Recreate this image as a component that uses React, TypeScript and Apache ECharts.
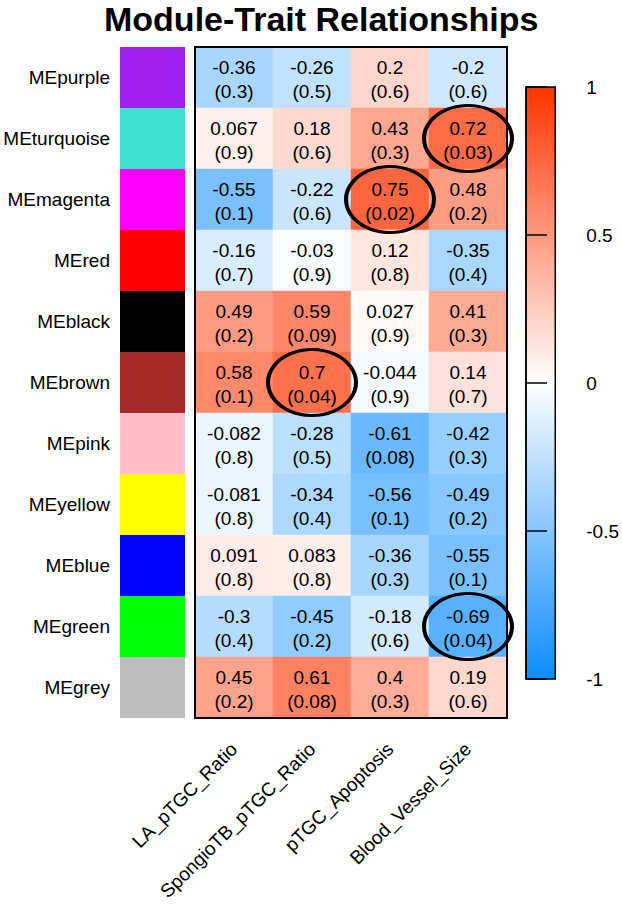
import React, { useEffect, useRef } from "react";
import * as echarts from "echarts";

const modules = ["MEpurple", "MEturquoise", "MEmagenta", "MEred", "MEblack", "MEbrown", "MEpink", "MEyellow", "MEblue", "MEgreen", "MEgrey"];
const moduleColors = ["#A020F0", "#40E0D0", "#FF00FF", "#FF0000", "#000000", "#A52A2A", "#FFC0CB", "#FFFF00", "#0000FF", "#00FF00", "#BEBEBE"];
const traits = ["LA_pTGC_Ratio", "SpongioTB_pTGC_Ratio", "pTGC_Apoptosis", "Blood_Vessel_Size"];

// correlations per module (rows) x trait (cols)
const corr = [
  [-0.36, -0.26, 0.2, -0.2],
  [0.067, 0.18, 0.43, 0.72],
  [-0.55, -0.22, 0.75, 0.48],
  [-0.16, -0.03, 0.12, -0.35],
  [0.49, 0.59, 0.027, 0.41],
  [0.58, 0.7, -0.044, 0.14],
  [-0.082, -0.28, -0.61, -0.42],
  [-0.081, -0.34, -0.56, -0.49],
  [0.091, 0.083, -0.36, -0.55],
  [-0.3, -0.45, -0.18, -0.69],
  [0.45, 0.61, 0.4, 0.19],
];
const pvals = [
  [0.3, 0.5, 0.6, 0.6],
  [0.9, 0.6, 0.3, 0.03],
  [0.1, 0.6, 0.02, 0.2],
  [0.7, 0.9, 0.8, 0.4],
  [0.2, 0.09, 0.9, 0.3],
  [0.1, 0.04, 0.9, 0.7],
  [0.8, 0.5, 0.08, 0.3],
  [0.8, 0.4, 0.1, 0.2],
  [0.8, 0.8, 0.3, 0.1],
  [0.4, 0.2, 0.6, 0.04],
  [0.2, 0.08, 0.3, 0.6],
];
// highlighted (significant) cells: [traitIndex, moduleIndex]
const highlighted = [
  [3, 1],
  [2, 2],
  [1, 5],
  [3, 9],
];
const colorbarTicks = [-1, -0.5, 0, 0.5, 1];

const FONT = "'Liberation Sans', Arial, Helvetica, sans-serif";

export default function App() {
  const ref = useRef<HTMLDivElement>(null);
  useEffect(() => {
    if (!ref.current) return;
    const chart = echarts.init(ref.current, null, { renderer: "svg" });
    const heatData: any[] = [];
    modules.forEach((m, r) => {
      traits.forEach((t, c) => {
        heatData.push({ value: [c, r, corr[r][c]], p: pvals[r][c] });
      });
    });
    const hm = { left: 195, top: 47, width: 312, height: 671 };
    const option: any = {
      animation: false,
      backgroundColor: "#ffffff",
      textStyle: { fontFamily: FONT },
      title: {
        text: "Module-Trait Relationships",
        left: 104,
        top: 2,
        padding: 0,
        textStyle: { fontSize: 34, fontWeight: "bold", color: "#000", fontFamily: FONT },
      },
      grid: [
        { ...hm },
        { left: 120, top: 47, width: 65, height: 671 },
        {
          left: 526,
          top: 87,
          width: 30,
          height: 592,
          show: true,
          borderColor: "#000",
          borderWidth: 1.5,
          backgroundColor: {
            type: "linear",
            x: 0,
            y: 0,
            x2: 0,
            y2: 1,
            colorStops: [
              { offset: 0, color: "#FF3300" },
              { offset: 0.5, color: "#FFFFFF" },
              { offset: 1, color: "#0D8CFF" },
            ],
          },
        },
      ],
      xAxis: [
        {
          gridIndex: 0,
          type: "category",
          data: traits,
          axisLine: { show: false },
          axisTick: { show: false },
          splitLine: { show: false },
          axisLabel: { rotate: 45, margin: 28, fontSize: 19, color: "#000", fontFamily: FONT, interval: 0 },
        },
        { gridIndex: 1, type: "value", min: 0, max: 1, show: false },
        { gridIndex: 2, type: "value", min: 0, max: 1, show: false },
      ],
      yAxis: [
        {
          gridIndex: 0,
          type: "category",
          data: modules,
          inverse: true,
          show: false,
        },
        {
          gridIndex: 1,
          type: "category",
          data: modules,
          inverse: true,
          axisLine: { show: false },
          axisTick: { show: false },
          axisLabel: { margin: 10, fontSize: 19, color: "#000", fontFamily: FONT },
        },
        {
          gridIndex: 2,
          type: "value",
          position: "right",
          min: colorbarTicks[0],
          max: colorbarTicks[colorbarTicks.length - 1],
          interval: 0.5,
          splitLine: { show: false },
          axisLine: { show: true, lineStyle: { color: "#000", width: 1.5 } },
          axisTick: { show: true, length: 21, lineStyle: { color: "#000", width: 1.5 } },
          axisLabel: { margin: 31, fontSize: 19, color: "#000", fontFamily: FONT },
        },
      ],
      visualMap: {
        show: false,
        type: "continuous",
        min: -1,
        max: 1,
        seriesIndex: 0,
        dimension: 2,
        inRange: { color: ["#0D8CFF", "#FFFFFF", "#FF3300"] },
      },
      series: [
        {
          type: "heatmap",
          xAxisIndex: 0,
          yAxisIndex: 0,
          data: heatData,
          label: {
            show: true,
            fontSize: 19,
            lineHeight: 24,
            color: "#000",
            fontFamily: FONT,
            offset: [0, 2],
            formatter: (p: any) => `${p.value[2]}\n(${p.data.p})`,
          },
          itemStyle: { borderWidth: 0 },
          emphasis: { disabled: true },
        },
        {
          type: "bar",
          xAxisIndex: 1,
          yAxisIndex: 1,
          barWidth: "100%",
          data: moduleColors.map((c) => ({ value: 1, itemStyle: { color: c } })),
          silent: true,
        },
        {
          type: "scatter",
          xAxisIndex: 0,
          yAxisIndex: 0,
          symbol: "circle",
          symbolSize: [88, 66],
          data: highlighted,
          itemStyle: { color: "rgba(0,0,0,0)", borderColor: "#000", borderWidth: 3.5, opacity: 1 },
          z: 10,
          silent: true,
        },
      ],
      graphic: [
        {
          type: "rect",
          shape: { x: hm.left, y: hm.top, width: hm.width, height: hm.height },
          style: { fill: "none", stroke: "#000", lineWidth: 2 },
          z: 100,
          silent: true,
        },
      ],
    };
    chart.setOption(option);
    return () => chart.dispose();
  }, []);
  return (
    <div
      ref={ref}
      style={{ position: "fixed", left: 0, top: 0, width: 622, height: 906, background: "#fff" }}
    />
  );
}
